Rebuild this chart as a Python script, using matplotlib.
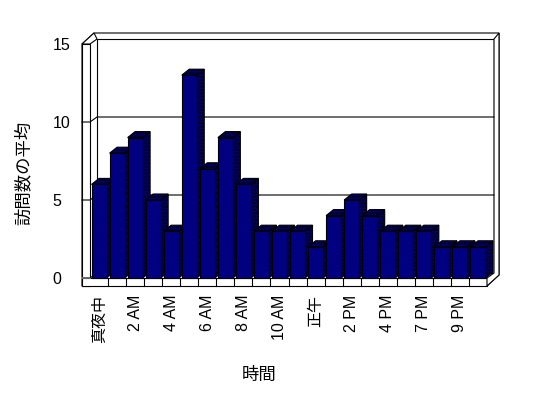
import matplotlib
matplotlib.use('Agg')
import matplotlib.pyplot as plt
from matplotlib.patches import Polygon

plt.rcParams['font.family'] = ['Liberation Sans', 'Noto Sans CJK JP']
plt.rcParams['hatch.linewidth'] = 1.2

# 22 hourly categories, labels shown on every second one
values = [6, 8, 9, 5, 3, 13, 7, 9, 6, 3, 3, 3, 2, 4, 5, 4, 3, 3, 3, 2, 2, 2]
tick_labels = ['真夜中', '2 AM', '4 AM', '6 AM', '8 AM', '10 AM',
               '正午', '2 PM', '4 PM', '7 PM', '9 PM']
y_ticks = [0, 5, 10, 15]
x_title = '時間'
y_title = '訪問数の平均'

n = len(values)
ymax = 15

W, H = 548, 398
fig = plt.figure(figsize=(W / 100, H / 100), dpi=100)
fig.patch.set_facecolor('white')
# front plane of the 3d box
ax = fig.add_axes([90 / W, 120 / H, 397 / W, 234 / H])
ax.set_xlim(0, n)
ax.set_ylim(0, ymax)
for s in ax.spines.values():
    s.set_visible(False)
ax.set_facecolor('none')

ux = 397 / n          # px per category
uy = 234 / ymax       # px per value unit
tw = 8 / ux           # wall thickness
tb = 8 / uy           # floor thickness
dx, dy = 7 / ux, 5 / uy        # depth to back wall
ox, oy = 12 / ux, 11 / uy      # depth to outer edge
bdx, bdy = 7.5 / ux, 6 / uy    # bar depth
lw = 0.8
k = dict(clip_on=False, lw=lw, ec='black', joinstyle='miter')

# outer silhouette of walls + floor
outer = [(-tw, -tb), (n, -tb), (n + ox, -tb + oy), (n + ox, ymax + oy),
         (-tw + ox, ymax + oy), (-tw, ymax)]
ax.add_patch(Polygon(outer, closed=True, fc='white', zorder=1, **k))
# back wall face
ax.add_patch(Polygon([(dx, dy), (n + dx, dy), (n + dx, ymax + dy), (dx, ymax + dy)],
                     closed=True, fc='white', zorder=2, **k))
# left wall front face / top
ax.add_patch(Polygon([(-tw, -tb), (0, -tb), (0, ymax), (-tw, ymax)],
                     closed=True, fc='white', zorder=2, **k))
ax.add_patch(Polygon([(-tw, ymax), (0, ymax), (dx, ymax + dy), (-tw + ox, ymax + oy)],
                     closed=True, fc='white', zorder=2, **k))
# floor front face
ax.add_patch(Polygon([(-tw, -tb), (n, -tb), (n, 0), (-tw, 0)],
                     closed=True, fc='white', zorder=2, **k))
ax.add_patch(Polygon([(n, -tb), (n + ox, -tb + oy), (n + ox, ymax + oy),
                      (n + dx, ymax + dy), (n + dx, dy), (n, 0)],
                     closed=True, fc='white', zorder=2, **k))
ax.plot([-tw, 0], [0, 0], color='white', lw=lw * 1.5, zorder=3, clip_on=False)
for i in range(1, n):
    ax.plot([i, i], [-tb, 0], color='black', lw=lw, zorder=3, clip_on=False)

# gridlines on back wall + left wall
for v in y_ticks[1:-1]:
    ax.plot([-tw, 0, dx, n + dx], [v, v, v + dy, v + dy],
            color='black', lw=lw, zorder=3, clip_on=False)
ax.plot([-tw, 0, dx], [0, 0, dy], color='black', lw=lw, zorder=3, clip_on=False)

# bars: front faces through ax.bar, depth faces from the same values
bw = 0.83
xs = [i + 0.5 for i in range(n)]
bars = ax.bar(xs, values, width=bw, color='#000080', edgecolor='black',
              linewidth=lw, clip_on=False)
for i, (b, v) in enumerate(zip(bars, values)):
    x0, x1 = xs[i] - bw / 2, xs[i] + bw / 2
    z = 10 + i
    ax.add_patch(Polygon([(x1, 0), (x1 + bdx, bdy), (x1 + bdx, v + bdy), (x1, v)],
                         closed=True, fc='#000070', hatch='.....', zorder=z - 0.5,
                         **k))
    ax.add_patch(Polygon([(x0, v), (x1, v), (x1 + bdx, v + bdy), (x0 + bdx, v + bdy)],
                         closed=True, fc='#000070', hatch='.....', zorder=z - 0.5,
                         **k))
    b.set_zorder(z)

# tick labels
ax.set_xticks(xs[::2])
ax.set_xticklabels(tick_labels, rotation=90, fontsize=11.5)
ax.tick_params(axis='x', length=0, pad=12)
ax.set_yticks(y_ticks)
ax.set_yticklabels([str(t) for t in y_ticks], fontsize=11.5)
ax.tick_params(axis='y', length=0, pad=27)
for t in ax.get_yticklabels():
    t.set_horizontalalignment('left')

fig.text(23 / W, 1 - 173 / H, y_title, rotation=90, fontsize=12.5,
         ha='center', va='center')
fig.text(259 / W, 1 - 375 / H, x_title, fontsize=12.5, ha='center', va='center')

fig.savefig('out.png', dpi=100, facecolor='white')
